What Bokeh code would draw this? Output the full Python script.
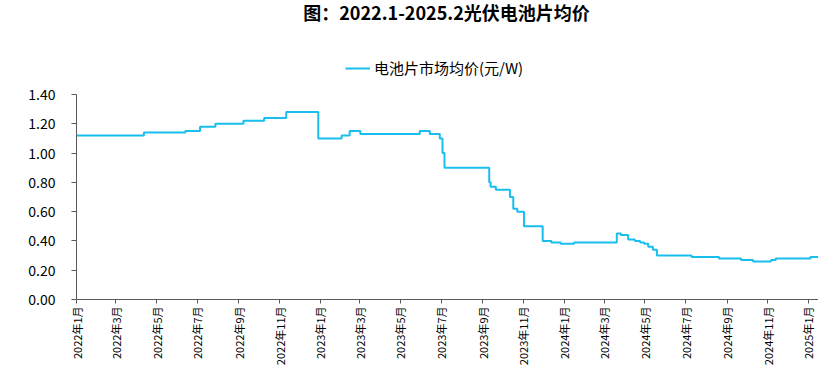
from datetime import datetime
from math import pi

import pandas as pd
from bokeh.plotting import figure
from bokeh.layouts import column
from bokeh.models import (ColumnDataSource, Range1d, FixedTicker, DatetimeTickFormatter,
                          NumeralTickFormatter, Legend, LegendItem, Label)
from bokeh.embed import file_html
from bokeh.resources import INLINE

# ---- data ----
change_dates = [
    "2022-01-01", "2022-04-12", "2022-06-13", "2022-07-05", "2022-07-28", "2022-09-08",
    "2022-10-09", "2022-11-11", "2022-12-29", "2023-02-02", "2023-02-14", "2023-03-02",
    "2023-05-30", "2023-06-14", "2023-06-29", "2023-07-03", "2023-07-06", "2023-09-11",
    "2023-09-13", "2023-09-21", "2023-10-12", "2023-10-17", "2023-10-23", "2023-11-02",
    "2023-11-30", "2023-12-13", "2023-12-27", "2024-01-16", "2024-03-20", "2024-03-26",
    "2024-04-06", "2024-04-16", "2024-04-24", "2024-04-30", "2024-05-06", "2024-05-13",
    "2024-05-19", "2024-07-10", "2024-08-20", "2024-09-22", "2024-10-10", "2024-11-06",
    "2024-11-13", "2025-01-04", "2025-02-10",
]
cell_price = [
    1.12, 1.14, 1.15, 1.18, 1.20, 1.22,
    1.24, 1.28, 1.10, 1.12, 1.15, 1.13,
    1.15, 1.13, 1.10, 1.00, 0.90, 0.80,
    0.77, 0.75, 0.70, 0.62, 0.60, 0.50,
    0.40, 0.39, 0.38, 0.39, 0.45, 0.44,
    0.41, 0.40, 0.39, 0.38, 0.36, 0.34,
    0.30, 0.29, 0.28, 0.27, 0.26, 0.27,
    0.28, 0.29, 0.29,
]
tick_months = pd.date_range("2022-01-01", "2025-01-01", freq="2MS")
y_ticks = [0.0, 0.2, 0.4, 0.6, 0.8, 1.0, 1.2, 1.4]
series_name = "电池片市场均价(元/W)"
title_text = "图：2022.1-2025.2光伏电池片均价"

FONT = "Noto Sans CJK SC"
LINE_COLOR = "#18BEEE"

src = ColumnDataSource(dict(date=pd.to_datetime(change_dates), price=cell_price))

# ---------------- header: title + legend ----------------
header = figure(width=818, height=84, x_range=Range1d(0, 1), y_range=Range1d(0, 1),
                x_axis_type=None, y_axis_type=None,
                output_backend="svg", toolbar_location=None,
                min_border_left=0, min_border_right=0, min_border_top=0, min_border_bottom=0)
header.outline_line_color = None
header.xgrid.visible = False
header.ygrid.visible = False

header.add_layout(Label(x=370, y=73, x_units="screen", y_units="screen", text=title_text,
                        text_font=FONT, text_font_size="18px", text_font_style="bold",
                        text_align="center", text_baseline="middle", text_color="#000000"))

# same series, only used as the legend's glyph (falls outside this header's ranges)
proxy = header.step(x="date", y="price", source=src, mode="after",
                    line_color=LINE_COLOR, line_width=2)
legend = Legend(items=[LegendItem(label=series_name, renderers=[proxy])],
                location=(269, 6), orientation="horizontal",
                glyph_width=25, glyph_height=16, label_height=16, label_standoff=4,
                padding=0, margin=0, border_line_color=None, background_fill_alpha=0,
                label_text_font=FONT, label_text_font_size="15px", label_text_color="#000000")
header.add_layout(legend, "center")

# ---------------- main chart ----------------
p = figure(width=818, height=284, x_axis_type="datetime",
           x_range=Range1d(datetime(2022, 1, 1), datetime(2025, 1, 16)),
           y_range=Range1d(0, 1.4),
           output_backend="svg", toolbar_location=None,
           min_border_left=76, min_border_right=0, min_border_top=10, min_border_bottom=69)
p.outline_line_color = None
p.xgrid.visible = False
p.ygrid.visible = False

p.step(x="date", y="price", source=src, mode="after", line_color=LINE_COLOR, line_width=2)

xa = p.xaxis[0]
xa.ticker = FixedTicker(ticks=[t.timestamp() * 1000 for t in tick_months])
fmt = "%Y年%-m月"
xa.formatter = DatetimeTickFormatter(days=fmt, months=fmt, years=fmt, hours=fmt)
xa.major_label_orientation = pi / 2
xa.major_label_text_font = FONT
xa.major_label_text_font_size = "11px"
xa.major_label_text_color = "#000000"
xa.major_label_standoff = 3
xa.major_tick_out = 4
xa.major_tick_in = 0
xa.minor_tick_out = 0
xa.minor_tick_in = 0
xa.axis_line_color = "#595959"
xa.major_tick_line_color = "#595959"

ya = p.yaxis[0]
ya.ticker = FixedTicker(ticks=y_ticks)
ya.formatter = NumeralTickFormatter(format="0.00")
ya.major_label_text_font = FONT
ya.major_label_text_font_size = "14px"
ya.major_label_text_color = "#000000"
ya.major_label_standoff = 16
ya.major_tick_out = 5
ya.major_tick_in = 0
ya.minor_tick_out = 0
ya.minor_tick_in = 0
ya.axis_line_color = "#595959"
ya.major_tick_line_color = "#595959"

layout = column(header, p, spacing=0)
open("out.html", "w").write(file_html(layout, INLINE))
